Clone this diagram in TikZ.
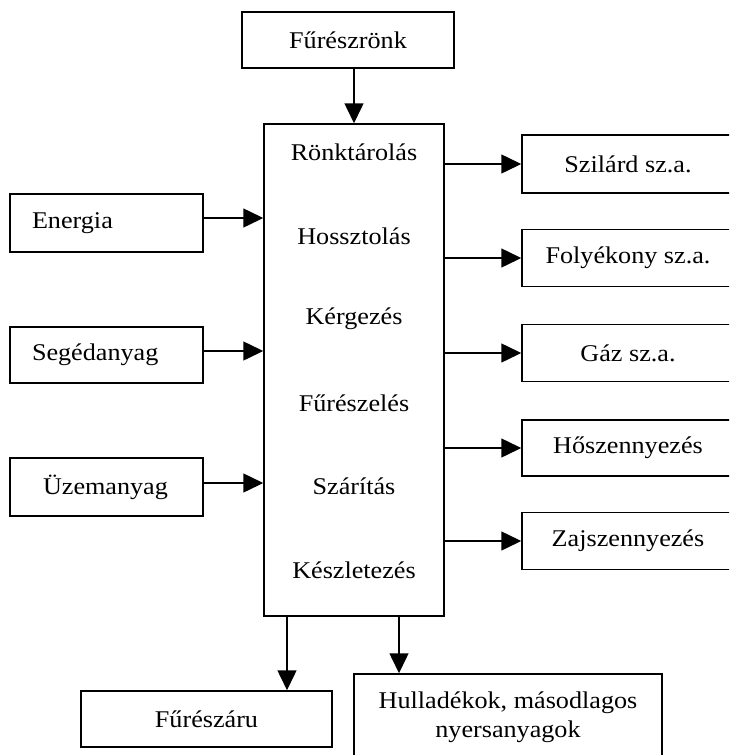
\documentclass[tikz,border=0pt]{standalone}
\usepackage{fontspec}
\setmainfont[FakeStretch=1.09]{Liberation Serif}
\usetikzlibrary{arrows.meta}
\begin{document}
\begin{tikzpicture}[x=1pt,y=-1pt,
  font=\fontsize{24}{29}\selectfont,
  box/.style={draw,line width=1.5pt,inner sep=0pt,align=center},
  leftbox/.style={box,minimum height=57pt,text width=149pt,inner xsep=22pt,align=left},
  rightbox/.style={box,minimum width=212pt,minimum height=57pt},
  stagetxt/.style={inner sep=0pt},
  arr/.style={line width=1.5pt,-{Triangle[length=20pt,width=19pt]}}]
\useasboundingbox (0,0) rectangle (729,755);
\clip (0,0) rectangle (729,755);
% top
\node[box,minimum width=212pt,minimum height=56pt] (fr) at (348,40) {Fűrészrönk};
% main block
\node[box,minimum width=180pt,minimum height=492pt] (main) at (354,370) {};
\node[stagetxt] (s1) at (354,152) {Rönktárolás};
\node[stagetxt] (s2) at (354,236) {Hossztolás};
\node[stagetxt] (s3) at (354,319) {Kérgezés};
\node[stagetxt] (s4) at (354,403) {Fűrészelés};
\node[stagetxt] (s5) at (354,486) {Szárítás};
\node[stagetxt] (s6) at (354,570) {Készletezés};
% left inputs
\node[leftbox,minimum height=58pt] (en) at (106.5,223) {Energia};
\node[leftbox,minimum height=56pt] (seg) at (106.5,355) {Segédanyag};
\node[leftbox,minimum height=58pt] (uz) at (106.5,487) {\hspace*{11pt}Üzemanyag};
% right outputs
\node[rightbox,minimum height=58pt] (szil) at (628,164) {Szilárd sz.a.};
\node[rightbox] (foly) at (628,258) {Folyékony sz.a.};
\node[rightbox] (gaz) at (628,353) {Gáz sz.a.};
\node[rightbox,minimum height=56pt] (ho) at (628,448) {Hőszennyezés};
\node[rightbox] (zaj) at (628,541) {Zajszennyezés};
% bottom outputs
\node[box,minimum width=251pt,minimum height=56pt] (fa) at (206.5,719) {Fűrészáru};
\node[box,minimum width=308pt,minimum height=87pt] (hull) at (508,717.5) {Hulladékok, másodlagos\\nyersanyagok};
% connector anchors
\coordinate (enE) at ([yshift=5pt]en.east);
\coordinate (segE) at ([yshift=4pt]seg.east);
\coordinate (uzE) at ([yshift=4pt]uz.east);
\coordinate (mS1) at ([xshift=-67pt]main.south);
\coordinate (mS2) at ([xshift=45pt]main.south);
% connectors
\draw[arr] (main.north |- fr.south) -- (main.north);
\draw[arr] (enE) -- (main.west |- enE);
\draw[arr] (segE) -- (main.west |- segE);
\draw[arr] (uzE) -- (main.west |- uzE);
\draw[arr] (main.east |- szil.west) -- (szil.west);
\draw[arr] (main.east |- foly.west) -- (foly.west);
\draw[arr] (main.east |- gaz.west) -- (gaz.west);
\draw[arr] (main.east |- ho.west) -- (ho.west);
\draw[arr] (main.east |- zaj.west) -- (zaj.west);
\draw[arr] (mS1) -- (mS1 |- fa.north);
\draw[arr] (mS2) -- (mS2 |- hull.north);
\end{tikzpicture}
\end{document}
